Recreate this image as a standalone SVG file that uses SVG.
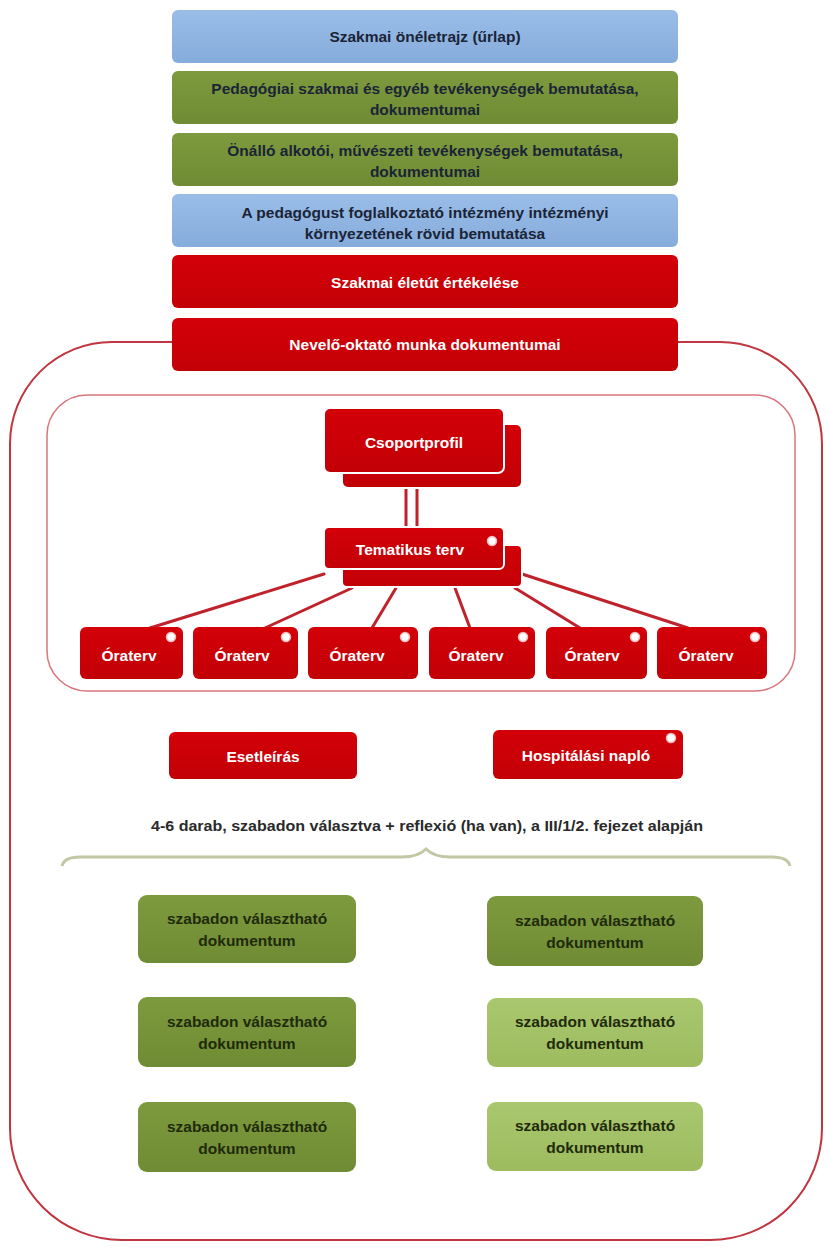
<svg xmlns="http://www.w3.org/2000/svg" width="830" height="1249" viewBox="0 0 830 1249">
  <defs>
    <linearGradient id="gBlue" x1="0" y1="0" x2="0" y2="1">
      <stop offset="0" stop-color="#9abde8"/>
      <stop offset="1" stop-color="#86acdc"/>
    </linearGradient>
    <linearGradient id="gGreen" x1="0" y1="0" x2="0" y2="1">
      <stop offset="0" stop-color="#7d9a3e"/>
      <stop offset="1" stop-color="#6f8c34"/>
    </linearGradient>
    <linearGradient id="gRed" x1="0" y1="0" x2="0" y2="1">
      <stop offset="0" stop-color="#d40008"/>
      <stop offset="1" stop-color="#c20006"/>
    </linearGradient>
    <linearGradient id="gLight" x1="0" y1="0" x2="0" y2="1">
      <stop offset="0" stop-color="#a9c76e"/>
      <stop offset="1" stop-color="#9dbb5e"/>
    </linearGradient>
  </defs>
  <style>
    text { font-family: "Liberation Sans", Arial, sans-serif; font-weight: bold; text-anchor: middle; dominant-baseline: central; }
    .blue { fill: url(#gBlue); }
    .green { fill: url(#gGreen); }
    .red { fill: url(#gRed); }
    .light { fill: url(#gLight); }
    .dark { fill: #1b2436; font-size: 15.5px; }
    .olive { fill: #1f2a0c; font-size: 15.5px; }
    .white { fill: #ffffff; font-size: 15.5px; }
    .card { stroke: #ffffff; stroke-width: 2; }
    .dot { fill: #ffffff; stroke: #f2b8bc; stroke-width: 1.5; }
    .fan { stroke: #c0222c; stroke-width: 3; fill: none; stroke-linecap: round; }
    .frame { fill: none; stroke: #c0353f; stroke-width: 2; }
    .inner { fill: none; stroke: #d9757c; stroke-width: 1.5; }
  </style>

  <rect width="830" height="1249" fill="#ffffff"/>

  <!-- frames -->
  <g id="frames">
    <path class="frame" d="M172,342 L112,342 A102,102 0 0 0 10,444 L10,1128 A112,112 0 0 0 122,1240 L710,1240 A112,112 0 0 0 822,1128 L822,444 A102,102 0 0 0 720,342 L678,342"/>
    <rect class="inner" x="47" y="395" width="748" height="296" rx="40"/>
  </g>

  <!-- portfolio sections -->
  <g id="n-onelet">
    <rect class="blue" x="172" y="10" width="506" height="53" rx="6"/>
    <text class="dark" x="425" y="36">Szakmai önéletrajz (űrlap)</text>
  </g>
  <g id="n-pedagogiai">
    <rect class="green" x="172" y="71" width="506" height="53" rx="6"/>
    <text class="dark" x="425" y="88">Pedagógiai szakmai és egyéb tevékenységek bemutatása,</text>
    <text class="dark" x="425" y="109">dokumentumai</text>
  </g>
  <g id="n-alkotoi">
    <rect class="green" x="172" y="133" width="506" height="53" rx="6"/>
    <text class="dark" x="425" y="150">Önálló alkotói, művészeti tevékenységek bemutatása,</text>
    <text class="dark" x="425" y="171">dokumentumai</text>
  </g>
  <g id="n-intezmeny">
    <rect class="blue" x="172" y="194" width="506" height="53" rx="6"/>
    <text class="dark" x="425" y="212">A pedagógust foglalkoztató intézmény intézményi</text>
    <text class="dark" x="425" y="233">környezetének rövid bemutatása</text>
  </g>
  <g id="n-eletut">
    <rect class="red" x="172" y="255" width="506" height="53" rx="6"/>
    <text class="white" x="425" y="282">Szakmai életút értékelése</text>
  </g>
  <g id="n-nevelo">
    <rect class="red" x="172" y="318" width="506" height="53" rx="6"/>
    <text class="white" x="425" y="344">Nevelő-oktató munka dokumentumai</text>
  </g>

  <!-- connectors -->
  <g id="connectors">
    <line class="fan" x1="406" y1="488" x2="406" y2="527"/>
    <line class="fan" x1="417" y1="488" x2="417" y2="527"/>
    <line class="fan" x1="324" y1="574" x2="150" y2="628"/>
    <line class="fan" x1="352" y1="588" x2="265" y2="628"/>
    <line class="fan" x1="396" y1="588" x2="372" y2="628"/>
    <line class="fan" x1="455" y1="588" x2="470" y2="628"/>
    <line class="fan" x1="515" y1="588" x2="580" y2="628"/>
    <line class="fan" x1="522" y1="574" x2="688" y2="628"/>
  </g>

  <g id="n-csoportprofil">
    <rect class="red card" x="342" y="424" width="180" height="64" rx="6"/>
    <rect class="red card" x="324" y="408" width="180" height="65" rx="6"/>
    <text class="white" x="414" y="442">Csoportprofil</text>
  </g>
  <g id="n-tematikus">
    <rect class="red card" x="342" y="545" width="180" height="42" rx="5"/>
    <rect class="red card" x="324" y="527" width="180" height="42" rx="5"/>
    <text class="white" x="410" y="549">Tematikus terv</text>
    <circle class="dot" cx="492" cy="541" r="4.5"/>
  </g>

  <g id="n-ora1">
    <rect class="red" x="80" y="627" width="103" height="52" rx="6"/>
    <text class="white" x="129" y="655">Óraterv</text>
    <circle class="dot" cx="171" cy="637" r="4.5"/>
  </g>
  <g id="n-ora2">
    <rect class="red" x="193" y="627" width="105" height="52" rx="6"/>
    <text class="white" x="242" y="655">Óraterv</text>
    <circle class="dot" cx="286" cy="637" r="4.5"/>
  </g>
  <g id="n-ora3">
    <rect class="red" x="308" y="627" width="110" height="52" rx="6"/>
    <text class="white" x="357" y="655">Óraterv</text>
    <circle class="dot" cx="405" cy="637" r="4.5"/>
  </g>
  <g id="n-ora4">
    <rect class="red" x="429" y="627" width="106" height="52" rx="6"/>
    <text class="white" x="476" y="655">Óraterv</text>
    <circle class="dot" cx="523" cy="637" r="4.5"/>
  </g>
  <g id="n-ora5">
    <rect class="red" x="546" y="627" width="101" height="52" rx="6"/>
    <text class="white" x="592" y="655">Óraterv</text>
    <circle class="dot" cx="635" cy="637" r="4.5"/>
  </g>
  <g id="n-ora6">
    <rect class="red" x="657" y="627" width="110" height="52" rx="6"/>
    <text class="white" x="706" y="655">Óraterv</text>
    <circle class="dot" cx="755" cy="637" r="4.5"/>
  </g>

  <g id="n-esetleiras">
    <rect class="red" x="169" y="732" width="188" height="47" rx="6"/>
    <text class="white" x="263" y="756">Esetleírás</text>
  </g>
  <g id="n-hospitalasi">
    <rect class="red" x="493" y="730" width="190" height="49" rx="6"/>
    <text class="white" x="586" y="755">Hospitálási napló</text>
    <circle class="dot" cx="671" cy="738" r="4.5"/>
  </g>

  <g id="caption">
    <text x="427" y="826" fill="#2a2a2a" font-size="14" textLength="552" lengthAdjust="spacingAndGlyphs">4-6 darab, szabadon választva + reflexió (ha van), a III/1/2. fejezet alapján</text>
    <path d="M62,866 Q64,857 80,857 L402,857 Q418,857 426,849 Q434,857 450,857 L772,857 Q788,857 790,866" fill="none" stroke="#c3c8a4" stroke-width="3"/>
  </g>

  <g id="n-valaszthato1">
    <rect class="green" x="138" y="895" width="218" height="68" rx="9"/>
    <text class="olive" x="247" y="918">szabadon választható</text>
    <text class="olive" x="247" y="940">dokumentum</text>
  </g>
  <g id="n-valaszthato2">
    <rect class="green" x="487" y="896" width="216" height="70" rx="9"/>
    <text class="olive" x="595" y="920">szabadon választható</text>
    <text class="olive" x="595" y="942">dokumentum</text>
  </g>
  <g id="n-valaszthato3">
    <rect class="green" x="138" y="997" width="218" height="70" rx="9"/>
    <text class="olive" x="247" y="1021">szabadon választható</text>
    <text class="olive" x="247" y="1043">dokumentum</text>
  </g>
  <g id="n-valaszthato4">
    <rect class="light" x="487" y="998" width="216" height="69" rx="9"/>
    <text class="olive" x="595" y="1021">szabadon választható</text>
    <text class="olive" x="595" y="1043">dokumentum</text>
  </g>
  <g id="n-valaszthato5">
    <rect class="green" x="138" y="1102" width="218" height="70" rx="9"/>
    <text class="olive" x="247" y="1126">szabadon választható</text>
    <text class="olive" x="247" y="1148">dokumentum</text>
  </g>
  <g id="n-valaszthato6">
    <rect class="light" x="487" y="1102" width="216" height="69" rx="9"/>
    <text class="olive" x="595" y="1125">szabadon választható</text>
    <text class="olive" x="595" y="1147">dokumentum</text>
  </g>
</svg>
